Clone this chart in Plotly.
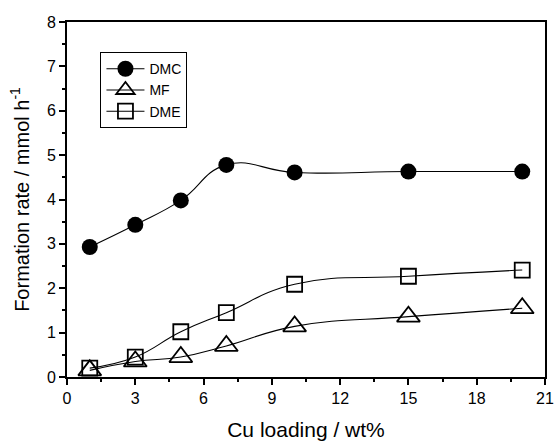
import plotly.graph_objects as go

cu_loading = [1, 3, 5, 7, 10, 15, 20]
dmc = [2.93, 3.43, 3.98, 4.78, 4.61, 4.63, 4.63]
mf = [0.15, 0.35, 0.45, 0.70, 1.14, 1.36, 1.55]
dme = [0.20, 0.45, 1.02, 1.45, 2.09, 2.27, 2.41]

x_ticks = [0, 3, 6, 9, 12, 15, 18, 21]
y_ticks = [0, 1, 2, 3, 4, 5, 6, 7, 8]

fig = go.Figure()
line = dict(color="black", width=1.1, shape="spline", smoothing=1.3)
fig.add_trace(go.Scatter(x=cu_loading, y=dmc, name="DMC", mode="lines+markers",
                         line=line, marker=dict(symbol="circle", size=16, color="black")))
fig.add_trace(go.Scatter(x=cu_loading, y=mf, name="MF", mode="lines+markers",
                         line=line, marker=dict(symbol="triangle-up-open", size=20, color="black",
                                                line=dict(width=1.8, color="black"))))
fig.add_trace(go.Scatter(x=cu_loading, y=dme, name="DME", mode="lines+markers",
                         line=line, marker=dict(symbol="square-open", size=15, color="black",
                                                line=dict(width=1.8, color="black"))))

axis_common = dict(showgrid=False, zeroline=False, showline=True, linecolor="black",
                   linewidth=2, mirror=True, ticks="outside", tickwidth=1.5, ticklen=6,
                   tickcolor="black", tickfont=dict(family="Arial", size=16, color="black"),
                   automargin=False)

fig.update_xaxes(range=[0, 21], tickvals=x_ticks,
                 title=dict(text="Cu loading / wt%",
                            font=dict(family="Arial", size=21, color="black"), standoff=22),
                 minor=dict(tickvals=[1.5, 4.5, 7.5, 10.5, 13.5, 16.5, 19.5], ticks="outside",
                            ticklen=3, tickwidth=1.5, tickcolor="black"),
                 **axis_common)
fig.update_yaxes(range=[0, 8], tickvals=y_ticks,
                 title=dict(text="Formation rate / mmol h<sup>-1</sup>",
                            font=dict(family="Arial", size=20, color="black"), standoff=12),
                 minor=dict(tickvals=[0.5 + i for i in range(8)], ticks="outside",
                            ticklen=3, tickwidth=1.5, tickcolor="black"),
                 **axis_common)

fig.update_layout(
    width=555, height=441,
    margin=dict(l=67, r=10, t=22, b=64),
    plot_bgcolor="white", paper_bgcolor="white",
    font=dict(family="Arial", color="black"),
    legend=dict(x=0.07, y=0.915, xanchor="left", yanchor="top",
                bordercolor="black", borderwidth=1, bgcolor="white",
                font=dict(family="Arial", size=14, color="black"),
                itemwidth=38, tracegroupgap=0),
    showlegend=True,
)

fig.write_html("out.html")
